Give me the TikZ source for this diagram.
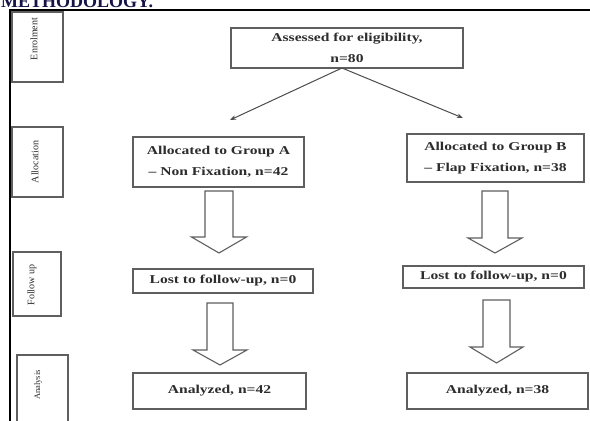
\documentclass[tikz,border=0pt]{standalone}
\usepackage{fontspec}
\setmainfont{Liberation Serif}
\newfontfamily\lbl[FakeStretch=1.3,Ligatures=TeX]{Liberation Serif}
\usetikzlibrary{arrows.meta,calc}
\definecolor{boxgray}{RGB}{95,95,95}
\definecolor{txt}{RGB}{45,45,45}
\definecolor{navy}{RGB}{20,20,70}
\newcommand\blockarr[6]{%
  \draw[barrow] (#1-#5,#2) -- (#1+#5,#2) -- (#1+#5,#3) -- (#1+#6,#3) -- (#1,#4)
     -- (#1-#6,#3) -- (#1-#5,#3) -- cycle;}
\begin{document}
\begin{tikzpicture}[x=1pt,y=-1pt,
  box/.style={draw=boxgray, line width=1.1pt, rectangle, inner sep=0pt, align=center,
              font=\lbl\bfseries\fontsize{12}{21.5}\selectfont, text=txt},
  side/.style={draw=boxgray, line width=1.1pt, rectangle, inner sep=0pt},
  sidetext/.style={rotate=90, inner sep=0pt, text=txt, font=\fontsize{10}{12}\selectfont},
  barrow/.style={draw=boxgray, line width=1.1pt, fill=white},
  link/.style={draw=boxgray!80!black, line width=1pt, -{Stealth[length=6pt,width=4.5pt]}}]
\useasboundingbox (0,0) rectangle (590,421);
\clip (0,0) rectangle (590,421);
\fill[white] (0,0) rectangle (590,421);

% heading (cut off at top, as in the reference)
\node[anchor=base west, inner sep=0pt, text=navy,
      font=\bfseries\fontsize{18}{20}\selectfont] (head) at (1,7) {METHODOLOGY.};

% frame
\draw[line width=1.5pt, black] (10,430) -- (10,10) -- (600,10);

% side boxes
\node[side, minimum width=51pt, minimum height=70pt] (enr) at (37.5,47) {};
\node[sidetext] at (34,39) {Enrolment};
\node[side, minimum width=51pt, minimum height=70pt] (alloc) at (37.5,162) {};
\node[sidetext] at (35,162) {Allocation};
\node[side, minimum width=48pt, minimum height=64pt] (fol) at (37,284) {};
\node[sidetext] at (32,285) {Follow up};
\node[side, minimum width=51pt, minimum height=85pt] (ana) at (42.5,397.5) {};
\node[sidetext, font=\fontsize{8.5}{10}\selectfont] at (38,385) {Analysis};

% main boxes
\node[box, minimum width=232pt, minimum height=40pt] (assess) at (347,48)
  {Assessed for eligibility,\\ n=80};
\node[box, minimum width=171pt, minimum height=50pt] (ga) at (218.5,162)
  {Allocated to Group A\\ \textendash{} Non Fixation, n=42};
\node[box, minimum width=177pt, minimum height=48pt] (gb) at (495.5,158)
  {Allocated to Group B\\ \textendash{} Flap Fixation, n=38};
\node[box, minimum width=180pt, minimum height=24pt] (la) at (223,281)
  {Lost to follow-up, n=0};
\node[box, minimum width=181pt, minimum height=22pt] (lb) at (493.5,277)
  {Lost to follow-up, n=0};
\node[box, minimum width=173pt, minimum height=36pt] (aa) at (219.5,391)
  {\raisebox{4pt}{Analyzed, n=42}};
\node[box, minimum width=181pt, minimum height=36pt] (ab) at (497.5,391)
  {\raisebox{4pt}{Analyzed, n=38}};

% split arrows
\coordinate (split) at (342,68);
\coordinate (endA) at (230,120);
\coordinate (endB) at (463,118);
\draw[link] (split) -- (endA);
\draw[link] (split) -- (endB);

% block arrows
\blockarr{219}{191}{237}{253}{14}{27.5}
\blockarr{220}{303}{350}{365}{13}{27}
\blockarr{495}{191}{238}{253}{13}{27}
\blockarr{496.5}{300}{347}{363}{13.5}{26.5}
\end{tikzpicture}
\end{document}
